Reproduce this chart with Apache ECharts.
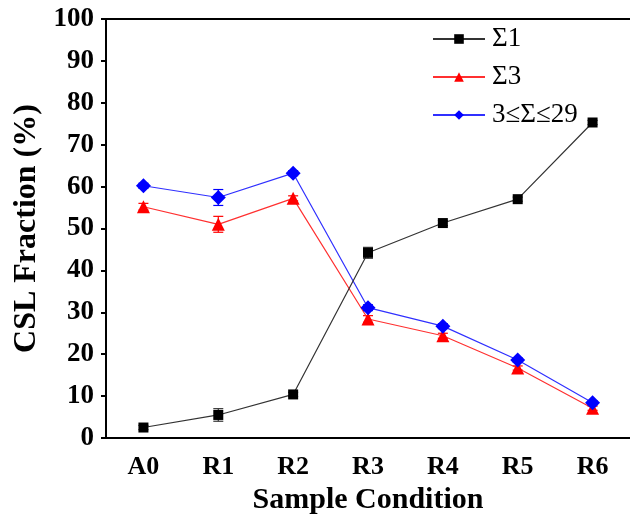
<!DOCTYPE html>
<html>
<head>
<meta charset="utf-8">
<script src="https://cdn.jsdelivr.net/npm/echarts@6/dist/echarts.min.js"></script>
<style>
  html, body { margin: 0; padding: 0; background: #fff; }
  #chart { width: 630px; height: 522px; }
</style>
</head>
<body>
<div id="chart"></div>
<script>
// Sample conditions along the x axis
const categories = ['A0', 'R1', 'R2', 'R3', 'R4', 'R5', 'R6'];
const yTicks = [0, 10, 20, 30, 40, 50, 60, 70, 80, 90, 100];

// CSL fractions (%) and their standard deviations
const sigma1 = [2.5, 5.5, 10.4, 44.2, 51.3, 57.0, 75.3];
const sigma1Err = [0.5, 1.5, 0.5, 1.3, 0.6, 0.5, 0.5];
const sigma3 = [55.2, 51.0, 57.2, 28.4, 24.4, 16.7, 7.1];
const sigma3Err = [0.8, 1.9, 0.6, 0.8, 0.6, 0.5, 0.5];
const csl = [60.2, 57.4, 63.2, 31.1, 26.7, 18.6, 8.4];
const cslErr = [0.6, 1.9, 0.6, 0.7, 0.6, 0.5, 0.5];

const SERIF = '"Liberation Serif", "Times New Roman", serif';

function errorData(vals, errs) {
  return vals.map((v, i) => [i, v - errs[i], v + errs[i]]);
}

function errorSeries(vals, errs, color, z) {
  return {
    type: 'custom',
    z: z,
    silent: true,
    data: errorData(vals, errs),
    renderItem: function (params, api) {
      const x = api.value(0);
      const lo = api.coord([x, api.value(1)]);
      const hi = api.coord([x, api.value(2)]);
      const cap = 5;
      const style = { stroke: color, lineWidth: 1.2 };
      return {
        type: 'group',
        children: [
          { type: 'line', shape: { x1: lo[0], y1: lo[1], x2: hi[0], y2: hi[1] }, style: style },
          { type: 'line', shape: { x1: lo[0] - cap, y1: lo[1], x2: lo[0] + cap, y2: lo[1] }, style: style },
          { type: 'line', shape: { x1: hi[0] - cap, y1: hi[1], x2: hi[0] + cap, y2: hi[1] }, style: style }
        ]
      };
    }
  };
}

const chart = echarts.init(document.getElementById('chart'), null, { renderer: 'canvas' });

chart.setOption({
  animation: false,
  backgroundColor: '#ffffff',
  grid: { left: 106, top: 19, width: 528, height: 419 },
  legend: {
    orient: 'vertical',
    left: 427,
    top: 20,
    itemWidth: 52,
    itemHeight: 12,
    itemGap: 10,
    textStyle: { fontFamily: SERIF, fontSize: 27, lineHeight: 28, color: '#000', padding: [0, 0, 0, 2] },
    data: ['Σ1', 'Σ3', '3≤Σ≤29']
  },
  xAxis: [
    {
      type: 'category',
      data: categories,
      boundaryGap: true,
      position: 'bottom',
      name: 'Sample Condition',
      nameLocation: 'middle',
      nameGap: 44,
      nameTextStyle: { fontFamily: SERIF, fontSize: 30, fontWeight: 'bold', color: '#000' },
      axisLine: { lineStyle: { color: '#000', width: 2 } },
      axisTick: { alignWithLabel: true, length: 6, lineStyle: { color: '#000', width: 2 } },
      axisLabel: { fontFamily: SERIF, fontSize: 26, fontWeight: 'bold', color: '#000', margin: 16 },
      splitLine: { show: false }
    },
    {
      type: 'category',
      data: categories,
      position: 'top',
      axisLine: { lineStyle: { color: '#000', width: 2 } },
      axisTick: { show: false },
      axisLabel: { show: false },
      splitLine: { show: false }
    }
  ],
  yAxis: {
    type: 'value',
    min: yTicks[0],
    max: yTicks[yTicks.length - 1],
    interval: 10,
    name: 'CSL Fraction (%)',
    nameLocation: 'middle',
    nameGap: 60,
    nameTextStyle: { fontFamily: SERIF, fontSize: 32, fontWeight: 'bold', color: '#000' },
    axisLine: { show: true, lineStyle: { color: '#000', width: 2 } },
    axisTick: { show: true, length: 5, lineStyle: { color: '#000', width: 2 } },
    axisLabel: { fontFamily: SERIF, fontSize: 27, fontWeight: 'bold', color: '#000', margin: 12 },
    splitLine: { show: false }
  },
  series: [
    errorSeries(sigma3, sigma3Err, '#ff0000', 2),
    {
      name: 'Σ3',
      type: 'line',
      z: 3,
      data: sigma3,
      symbol: 'triangle',
      symbolSize: 13,
      lineStyle: { color: '#ff3030', width: 1.2 },
      itemStyle: { color: '#ff0000' }
    },
    errorSeries(csl, cslErr, '#0000ff', 4),
    {
      name: '3≤Σ≤29',
      type: 'line',
      z: 5,
      data: csl,
      symbol: 'diamond',
      symbolSize: 15,
      lineStyle: { color: '#3030ff', width: 1.2 },
      itemStyle: { color: '#0000ff' }
    },
    errorSeries(sigma1, sigma1Err, '#333333', 6),
    {
      name: 'Σ1',
      type: 'line',
      z: 7,
      data: sigma1,
      symbol: 'rect',
      symbolSize: 10,
      lineStyle: { color: '#333333', width: 1.2 },
      itemStyle: { color: '#000000' }
    }
  ]
});
</script>
</body>
</html>
